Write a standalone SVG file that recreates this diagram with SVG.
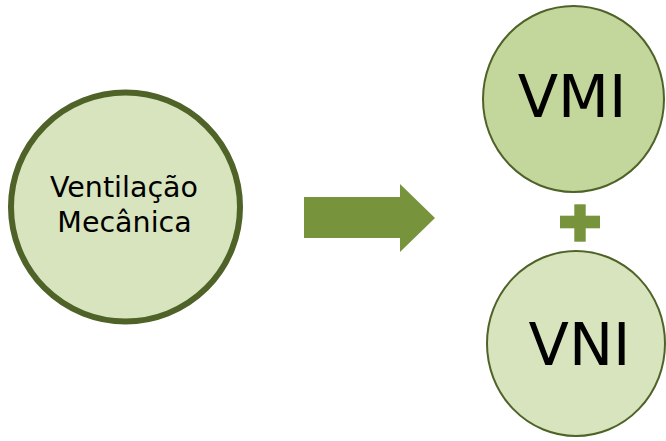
<svg xmlns="http://www.w3.org/2000/svg" width="666" height="441" viewBox="0 0 666 441">
<style>
.node{stroke:#4f6228}
.lbl{font-family:"DejaVu Sans",sans-serif;fill:#000;text-anchor:middle}
.green{fill:#77933c}
</style>
<rect width="666" height="441" fill="#ffffff"/>
<g id="node-ventilacao">
<circle class="node" cx="125.5" cy="207" r="114.5" fill="#d7e4bd" stroke-width="6"/>
<text class="lbl" x="124" y="197" font-size="28.5">Ventilação</text>
<text class="lbl" x="124.5" y="232" font-size="28.5">Mecânica</text>
</g>
<g id="connectors">
<polygon class="green" points="304,197 400,197 400,184 435,218 400,252 400,238 304,238"/>
</g>
<g id="node-vmi">
<ellipse class="node" cx="573.5" cy="99" rx="90.5" ry="93" fill="#c3d69b" stroke-width="2"/>
<text class="lbl" x="572" y="117" font-size="59">VMI</text>
</g>
<g id="plus">
<rect class="green" x="560" y="215.7" width="40" height="12.6"/>
<rect class="green" x="574.3" y="204.3" width="11.4" height="37.4"/>
</g>
<g id="node-vni">
<ellipse class="node" cx="576" cy="343.5" rx="89" ry="92.5" fill="#d7e4bd" stroke-width="2"/>
<text class="lbl" x="579.5" y="365" font-size="59">VNI</text>
</g>
</svg>
